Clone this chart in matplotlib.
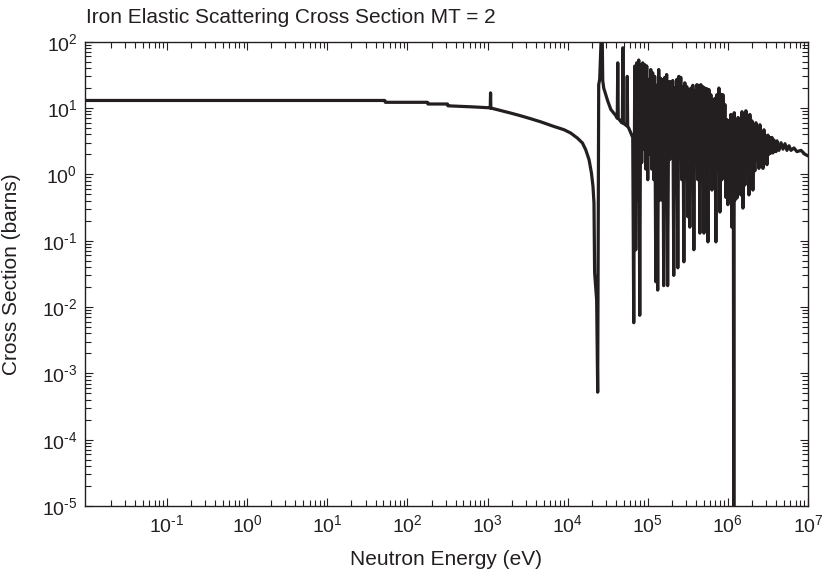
import numpy as np
import matplotlib
matplotlib.use("Agg")
import matplotlib.pyplot as plt
from matplotlib.ticker import LogLocator, NullFormatter, FuncFormatter

plt.rcParams['font.family'] = ['Liberation Sans', 'DejaVu Sans']
plt.rcParams['mathtext.fontset'] = 'custom'
plt.rcParams['mathtext.rm'] = 'Liberation Sans'
plt.rcParams['mathtext.it'] = 'Liberation Sans:italic'
plt.rcParams['mathtext.bf'] = 'Liberation Sans:bold'
plt.rcParams['mathtext.default'] = 'regular'

ink = '#231f20'

# smooth part: thermal plateau, 1.15 keV resonance, fall into the 24 keV window
low_e = [1e-5, 52, 53, 178, 180, 316, 320, 660, 1030, 1080, 1090, 1100, 1450, 1940,
         2570, 3450, 4600, 6750, 9000, 10900, 13200, 15300, 16800, 18500, 19800,
         20700, 21300, 21700, 23000, 23700]
low_xs = [13.0, 13.0, 12.2, 12.2, 11.5, 11.5, 10.8, 10.4, 10.1, 10.0, 16.9, 10.0, 9.2, 8.4,
          7.66, 6.9, 6.2, 5.27, 4.71, 4.2, 3.53, 2.97, 2.35, 1.66, 1.05,
          0.66, 0.37, 0.033, 0.0128, 0.00052]

# 27.7 keV resonance and its tail with a few narrow spikes
peak_e = [24400, 25100, 26200, 27000, 27400, 28200, 29900, 31600, 34600, 39800,
          41600, 42200, 42800, 47300, 48200, 48900, 49600, 54600, 55400, 56100,
          57800, 64900]
peak_xs = [22.5, 27, 115, 115, 26, 20, 15.9, 12.8, 9.5, 7.7,
           7.0, 48, 7.0, 6.0, 6.0, 81, 5.9, 5.4, 30, 5.3,
           5.0, 3.6]

# resonance region, peak and valley turning points
res_e = [66.8e3, 68.7e3, 70.7e3, 72.8e3, 74.9e3, 77.1e3, 79.4e3, 81.7e3, 84.0e3, 86.5e3,
         89.0e3, 91.6e3, 94.3e3, 97.0e3, 99.9e3, 103e3, 106e3, 109e3, 112e3, 115e3,
         119e3, 122e3, 126e3, 129e3, 133e3, 137e3, 141e3, 145e3, 149e3, 154e3,
         158e3, 163e3, 168e3, 172e3, 177e3, 183e3, 188e3, 194e3, 199e3, 205e3,
         211e3, 217e3, 224e3, 230e3, 237e3, 244e3, 251e3, 258e3, 266e3, 274e3,
         282e3, 290e3, 298e3, 307e3, 316e3, 325e3, 335e3, 345e3, 355e3, 365e3,
         376e3, 387e3, 398e3, 410e3, 422e3, 434e3, 447e3, 460e3, 473e3, 487e3,
         502e3, 516e3, 531e3, 547e3, 563e3, 579e3, 596e3, 613e3, 631e3, 650e3,
         669e3, 688e3, 708e3, 729e3, 750e3, 772e3, 795e3, 818e3, 842e3, 866e3,
         891e3, 917e3, 944e3, 972e3, 1.00e6, 1.03e6, 1.06e6, 1.09e6, 1.12e6, 1.15e6,
         1.17e6, 1.185e6, 1.20e6, 1.23e6, 1.26e6, 1.30e6, 1.34e6, 1.37e6, 1.41e6, 1.45e6,
         1.50e6, 1.54e6, 1.59e6, 1.63e6, 1.68e6, 1.73e6, 1.78e6, 1.83e6, 1.88e6, 1.94e6,
         2.00e6, 2.05e6, 2.11e6, 2.17e6, 2.24e6, 2.30e6, 2.37e6, 2.44e6, 2.51e6, 2.58e6,
         2.66e6, 2.74e6, 2.82e6, 2.90e6, 2.98e6, 3.07e6, 3.16e6, 3.25e6, 3.35e6, 3.45e6,
         3.55e6, 3.65e6, 3.76e6, 3.98e6, 4.10e6, 4.34e6, 4.60e6, 4.87e6, 5.16e6, 5.46e6,
         5.79e6, 6.13e6, 6.68e6, 7.28e6, 8.18e6, 9.2e6, 1.0e7, 2.0e7]
res_xs = [0.0058, 43, 0.073, 48, 0.41, 53, 0.0075, 45, 1.5, 48,
          2.4, 45, 1.2, 43, 0.83, 27, 2.0, 38, 1.2, 34,
          0.83, 30, 0.024, 22, 0.018, 38, 0.41, 28, 0.41, 27,
          0.021, 29, 2.4, 32, 0.021, 25, 1.67, 25, 2.4, 26,
          0.030, 20, 1.18, 27, 0.039, 30, 2.4, 29, 0.83, 21,
          0.048, 24, 1.67, 21, 0.23, 19, 0.16, 20, 2.4, 22,
          0.073, 18, 1.67, 22.5, 0.83, 22, 0.13, 22.5, 2.4, 21,
          0.13, 20, 1.18, 19.5, 0.096, 19, 1.67, 15.9, 0.58, 13.4,
          2.4, 14, 0.096, 15.9, 1.18, 20, 0.27, 16, 0.83, 15.9,
          1.67, 11.3, 0.45, 6.7, 0.35, 6.4, 1.18, 8.0, 0.16, 7.2,
          0.83, 1e-6, 8.5, 0.41, 6.7, 0.44, 7.2, 0.83, 6.0, 0.49,
          8.8, 0.31, 7.7, 0.69, 9.1, 1.18, 6.7, 0.49, 8.0, 1.67,
          6.4, 0.58, 5.6, 1.13, 6.0, 1.67, 4.7, 1.23, 5.6, 1.67,
          4.0, 1.23, 4.7, 1.8, 3.8, 1.4, 3.9, 2.0, 3.6, 2.1,
          3.6, 2.1, 3.3, 2.2, 3.2, 2.3, 3.0, 2.4, 2.9, 2.3,
          2.7, 2.3, 2.5, 2.2, 2.3, 2.0, 1.9, 1.75]

energy = np.array(low_e + peak_e + res_e)
xs = np.array(low_xs + peak_xs + res_xs)


def pow10(v, pos):
    k = int(round(np.log10(v)))
    if k < 0:
        return r'$10^{\text{-}%d}$' % (-k)
    return r'$10^{%d}$' % k


fig = plt.figure(figsize=(8.23, 5.73), dpi=100)
ax = fig.add_axes([85 / 823, 1 - 506 / 573, 723 / 823, 464.3 / 573])

ax.plot(energy, xs, color=ink, lw=2.3)

ax.set_xscale('log')
ax.set_yscale('log')
ax.set_xlim(10 ** -2.025, 1e7)
ax.set_ylim(1e-5, 1e2)

ax.set_xticks([10.0 ** k for k in range(-1, 8)])
ax.set_yticks([10.0 ** k for k in range(-5, 3)])
ax.xaxis.set_major_formatter(FuncFormatter(pow10))
ax.yaxis.set_major_formatter(FuncFormatter(pow10))
ax.xaxis.set_minor_locator(LogLocator(base=10, subs=np.arange(2, 10), numticks=30))
ax.yaxis.set_minor_locator(LogLocator(base=10, subs=np.arange(2, 10), numticks=30))
ax.xaxis.set_minor_formatter(NullFormatter())
ax.yaxis.set_minor_formatter(NullFormatter())

ax.tick_params(which='both', direction='in', top=True, right=True, color=ink,
               labelcolor=ink, labelsize=14)
ax.tick_params(which='major', length=6, width=0.8, pad=6)
ax.tick_params(which='minor', length=4, width=0.8)
ax.tick_params(axis='y', which='major', pad=5.5)
for s in ax.spines.values():
    s.set_color(ink)
    s.set_linewidth(1.0)

ax.set_xlabel('Neutron Energy (eV)', fontsize=15, color=ink)
ax.xaxis.label.set_va('baseline')
ax.xaxis.set_label_coords(0.5, (506 - 565) / 464.3)
ax.set_ylabel('Cross Section (barns)', fontsize=15, color=ink)
ax.yaxis.label.set_va('baseline')
ax.yaxis.set_label_coords((17 - 85) / 723, 0.5)

fig.text(86 / 823, 1 - 23.3 / 573, 'Iron Elastic Scattering Cross Section MT = 2',
         fontsize=15, color=ink, ha='left', va='baseline')

fig.savefig('out.png', dpi=100)
